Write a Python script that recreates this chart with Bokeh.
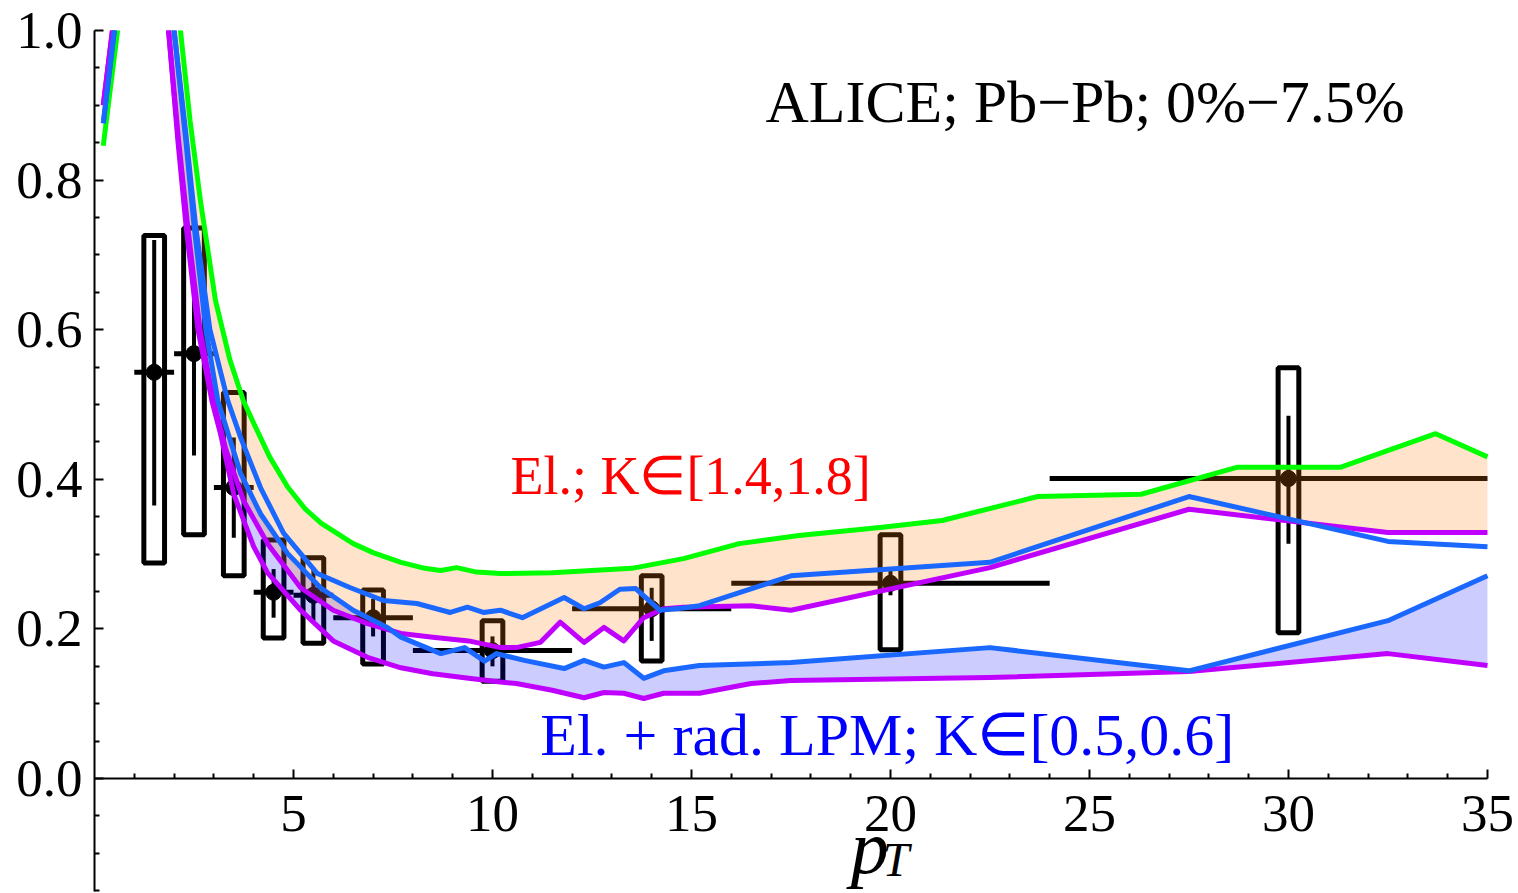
from bokeh.plotting import figure
from bokeh.models import Range1d, FixedTicker, PrintfTickFormatter, Label
from bokeh.embed import file_html
from bokeh.resources import INLINE

# ---------------- data ----------------
# ALICE points
pt_x = [1.5, 2.5, 3.5, 4.5, 5.5, 7.0, 10.0, 14.0, 20.0, 30.0]
pt_y = [0.543, 0.568, 0.389, 0.249, 0.245, 0.215, 0.171, 0.227, 0.261, 0.401]
bin_lo = [1, 2, 3, 4, 5, 6, 8, 12, 16, 24]
bin_hi = [2, 3, 4, 5, 6, 8, 12, 16, 24, 35]
stat_lo = [0.365, 0.432, 0.322, 0.215, 0.211, 0.19, 0.15, 0.184, 0.245, 0.314]
stat_hi = [0.72, 0.642, 0.456, 0.28, 0.282, 0.24, 0.19, 0.255, 0.278, 0.485]
sys_lo = [0.288, 0.326, 0.271, 0.188, 0.181, 0.153, 0.130, 0.157, 0.172, 0.195]
sys_hi = [0.726, 0.736, 0.516, 0.319, 0.295, 0.252, 0.211, 0.271, 0.326, 0.549]

# green curve (El., upper)
g_x = [0.22, 0.58, 1.0, 1.4, 1.8, 2.16, 2.4, 2.66, 3.04, 3.4, 3.74, 4.0, 4.4, 4.85, 5.3, 5.7,
       6.5, 7.0, 7.7, 8.3, 8.7, 9.1, 9.6, 10.2, 11.5, 13.5, 14.8, 16.2, 17.7, 19.8, 21.3,
       23.7, 26.3, 28.7, 31.3, 33.7, 35.0]
g_y = [0.846, 1.0, 1.22, 1.3, 1.18, 1.0, 0.88, 0.773, 0.639, 0.56, 0.505, 0.475, 0.43, 0.39, 0.36, 0.341,
       0.314, 0.302, 0.289, 0.281, 0.278, 0.282, 0.276, 0.274, 0.275, 0.281, 0.294, 0.314, 0.325, 0.336, 0.345,
       0.377, 0.380, 0.416, 0.416, 0.461, 0.430]

# upper blue curve
b1_x = [0.22, 0.5, 1.0, 1.4, 1.75, 2.0, 2.3, 2.54, 2.9, 3.35, 3.67, 4.17, 4.75, 5.6, 6.43, 7.26,
        8.1, 8.94, 9.37, 9.77, 10.2, 10.75, 11.8, 12.3, 12.7, 13.2, 13.6, 14.2, 14.8, 15.2,
        17.5, 22.5, 27.5, 32.5, 35.0]
b1_y = [0.876, 1.0, 1.22, 1.28, 1.12, 1.0, 0.86, 0.739, 0.6, 0.505, 0.456, 0.389, 0.328, 0.274, 0.255, 0.238,
        0.234, 0.222, 0.229, 0.222, 0.225, 0.215, 0.242, 0.227, 0.235, 0.253, 0.254, 0.225, 0.228, 0.231,
        0.271, 0.289, 0.377, 0.317, 0.310]

# lower blue curve (El. + rad. LPM, upper edge)
b2_x = [0.22, 0.5, 1.0, 1.4, 1.75, 2.0, 2.3, 2.5, 2.8, 3.1, 3.67, 4.17, 4.85, 5.68, 6.5, 7.36,
        7.7, 8.7, 9.3, 9.8, 10.1, 10.8, 11.8, 12.3, 12.8, 13.3, 13.8, 14.3, 15.2, 17.5,
        22.5, 27.5, 32.5, 35.0]
b2_y = [0.876, 1.0, 1.22, 1.28, 1.12, 1.0, 0.85, 0.74, 0.6, 0.505, 0.408, 0.354, 0.301, 0.255, 0.225, 0.202,
        0.189, 0.167, 0.175, 0.157, 0.167, 0.158, 0.147, 0.158, 0.149, 0.155, 0.134, 0.144, 0.151, 0.155,
        0.175, 0.144, 0.211, 0.271]

# upper magenta curve (El., lower edge)
m1_x = [0.22, 0.45, 0.9, 1.3, 1.65, 1.86, 2.1, 2.34, 2.65, 2.99, 3.3, 3.74, 4.35, 5.18, 6.0, 6.86,
        7.7, 8.5, 9.4, 10.2, 10.6, 11.2, 11.7, 12.3, 12.8, 13.3, 13.8, 14.3, 14.8, 16.5, 17.5,
        22.5, 27.5, 32.5, 35.0]
m1_y = [0.90, 1.0, 1.2, 1.26, 1.12, 1.0, 0.86, 0.739, 0.6, 0.505, 0.44, 0.372, 0.314, 0.255, 0.225, 0.207,
        0.194, 0.189, 0.184, 0.175, 0.175, 0.182, 0.209, 0.182, 0.202, 0.184, 0.215, 0.227, 0.229, 0.231, 0.225,
        0.282, 0.360, 0.329, 0.329]

# lower magenta curve (El. + rad. LPM, lower edge)
m2_x = [0.22, 0.45, 0.9, 1.3, 1.65, 1.86, 2.1, 2.3, 2.6, 2.95, 3.17, 3.5, 4.0, 4.35, 5.18, 6.0,
        6.86, 7.7, 8.5, 9.4, 10.2, 10.6, 11.5, 12.3, 12.8, 13.3, 13.8, 14.3, 15.2, 16.5, 17.5,
        22.5, 27.5, 32.5, 35.0]
m2_y = [0.90, 1.0, 1.2, 1.26, 1.12, 1.0, 0.85, 0.739, 0.6, 0.505, 0.46, 0.38, 0.31, 0.275, 0.225, 0.184,
        0.162, 0.148, 0.140, 0.134, 0.129, 0.127, 0.118, 0.108, 0.115, 0.114, 0.107, 0.114, 0.114, 0.127, 0.131,
        0.135, 0.143, 0.167, 0.151]

x_major = [5, 10, 15, 20, 25, 30, 35]
x_minor = [1, 2, 3, 4, 6, 7, 8, 9, 11, 12, 13, 14, 16, 17, 18, 19, 21, 22, 23, 24,
           26, 27, 28, 29, 31, 32, 33, 34]
y_major = [0.0, 0.2, 0.4, 0.6, 0.8, 1.0]
y_minor = [-0.15, -0.1, -0.05, 0.05, 0.1, 0.15, 0.25, 0.3, 0.35, 0.45, 0.5, 0.55,
           0.65, 0.7, 0.75, 0.85, 0.9, 0.95]

GREEN = "#00FF00"
BLUE = "#1A68FF"
MAGENTA = "#BF00FF"
SERIF = "Liberation Serif"

# ---------------- figure ----------------
# 39.8 px per pT unit, 748 px per unit of the ratio
p = figure(width=1518, height=893, output_backend="svg", toolbar_location=None,
           x_range=Range1d(0, 35.78), y_range=Range1d(-0.1537, 1.0),
           min_border_left=94, min_border_right=0, min_border_top=30, min_border_bottom=0)
p.grid.visible = False
p.outline_line_color = None
p.background_fill_color = "white"
p.border_fill_color = "white"

# data: systematic boxes, bin bars, stat bars, points
half_w = 0.26
p.quad(left=[x - half_w for x in pt_x], right=[x + half_w for x in pt_x],
       bottom=sys_lo, top=sys_hi, fill_color=None, line_color="black", line_width=5)
p.segment(x0=bin_lo, y0=pt_y, x1=bin_hi, y1=pt_y, line_color="black", line_width=5)
p.segment(x0=pt_x, y0=stat_lo, x1=pt_x, y1=stat_hi, line_color="black", line_width=4)
p.scatter(pt_x, pt_y, size=16, color="black")

# bands
p.patch(b2_x + m2_x[::-1], b2_y + m2_y[::-1],
        fill_color="#0000FF", fill_alpha=0.2, line_color=None)
p.patch(g_x + m1_x[::-1], g_y + m1_y[::-1],
        fill_color="#FF8010", fill_alpha=0.22, line_color=None)

# curves
lw = 5
p.line(g_x, g_y, line_color=GREEN, line_width=lw, line_join="round")
p.line(m1_x, m1_y, line_color=MAGENTA, line_width=lw, line_join="round")
p.line(m2_x, m2_y, line_color=MAGENTA, line_width=lw, line_join="round")
p.line(b1_x, b1_y, line_color=BLUE, line_width=lw, line_join="round")
p.line(b2_x, b2_y, line_color=BLUE, line_width=lw, line_join="round")

# axes
xa = p.xaxis[0]
xa.fixed_location = 0
xa.bounds = (0, 35)
xa.ticker = FixedTicker(ticks=x_major, minor_ticks=x_minor)
ya = p.yaxis[0]
ya.bounds = (-0.151, 1.0)
ya.ticker = FixedTicker(ticks=y_major, minor_ticks=y_minor)
ya.formatter = PrintfTickFormatter(format="%.1f")
for ax in (xa, ya):
    ax.axis_line_color = "black"
    ax.axis_line_width = 2
    ax.major_tick_line_color = "black"
    ax.minor_tick_line_color = "black"
    ax.major_tick_line_width = 2
    ax.minor_tick_line_width = 2
    ax.major_tick_in = 9
    ax.major_tick_out = 0
    ax.minor_tick_in = 5
    ax.minor_tick_out = 0
    ax.major_label_text_font = SERIF
    ax.major_label_text_font_size = "53px"
    ax.major_label_text_color = "black"
xa.major_label_standoff = 17
ya.major_label_standoff = 12

# annotations
p.add_layout(Label(x=16.86, y=0.904, text="ALICE; Pb\u2212Pb; 0%\u22127.5%",
                   text_font=SERIF, text_font_size="60px", text_color="black",
                   text_baseline="alphabetic", text_align="left"))
p.add_layout(Label(x=10.45, y=0.404, text="El.; K\u2208[1.4,1.8]",
                   text_font=SERIF, text_font_size="54px", text_color="#FF0000",
                   text_baseline="alphabetic", text_align="left"))
p.add_layout(Label(x=11.2, y=0.058, text="El. + rad. LPM; K\u2208[0.5,0.6]",
                   text_font=SERIF, text_font_size="60px", text_color="#0000FF",
                   text_baseline="alphabetic", text_align="left"))
p.add_layout(Label(x=19.0, y=-0.092, text="p", text_font=SERIF, text_font_style="italic",
                   text_font_size="76px", text_color="black",
                   text_baseline="alphabetic", text_align="left"))
p.add_layout(Label(x=19.8, y=-0.108, text="T", text_font=SERIF, text_font_style="italic",
                   text_font_size="48px", text_color="black",
                   text_baseline="alphabetic", text_align="left"))

open("out.html", "w").write(file_html(p, INLINE))
